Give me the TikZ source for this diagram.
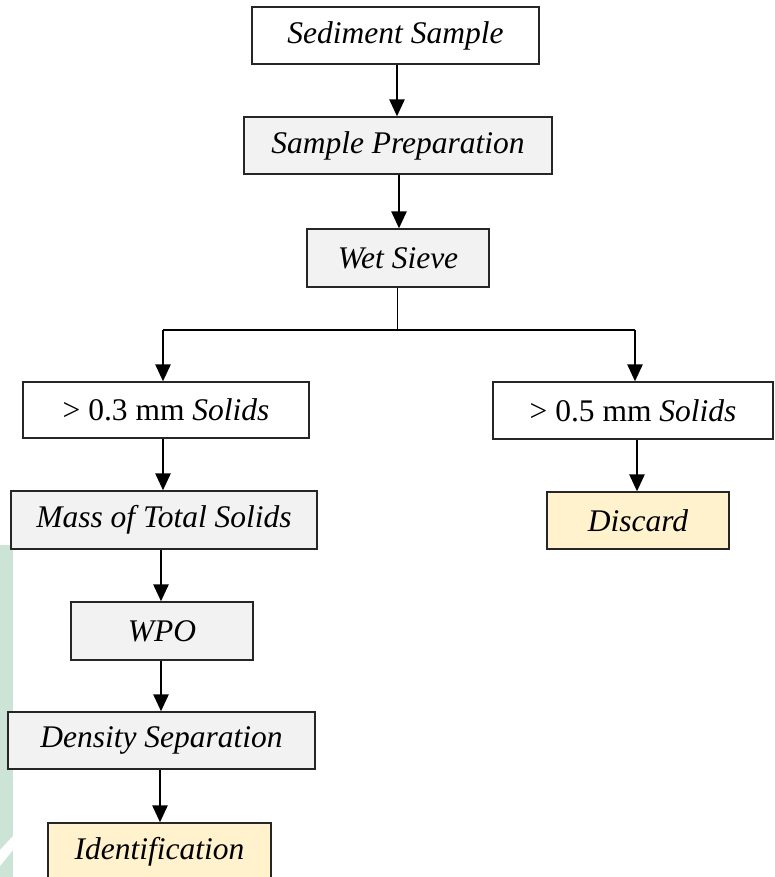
\documentclass[tikz,border=0pt]{standalone}
\usepackage{fontspec}
\setmainfont{Liberation Serif}
\usetikzlibrary{arrows.meta}
\definecolor{boxgray}{RGB}{242,242,242}
\definecolor{boxcream}{RGB}{255,242,204}
\definecolor{edgegreen}{RGB}{204,228,214}
\tikzset{
  stage/.style={draw=black!85, line width=1.3pt, rectangle, inner sep=0pt,
    font=\fontsize{31.5}{36}\selectfont\itshape, text=black},
  arr/.style={line width=2.6pt, -{Triangle[length=17pt,width=15pt]}},
  thinline/.style={line width=1pt}
}
\begin{document}
\begin{tikzpicture}[x=1pt,y=-1pt]
\useasboundingbox (0,0) rectangle (774,877);
\fill[white] (0,0) rectangle (774,877);
% faint band along the left edge
\fill[edgegreen] (0,545) rectangle (13,877);
\fill[white] (0,850) -- (13,836) -- (13,850) -- (0,866) -- cycle;
\begin{scope}
\clip (0,0) rectangle (774,877);
% stages
\node[stage, fill=white, minimum width=287pt, minimum height=57pt] (sed) at (395.5,35.5) {Sediment Sample};
\node[stage, fill=boxgray, minimum width=308pt, minimum height=57pt] (prep) at (398,145.5) {Sample Preparation};
\node[stage, fill=boxgray, minimum width=182pt, minimum height=58pt] (wet) at (398,258) {Wet Sieve};
\node[stage, fill=white, minimum width=286pt, minimum height=56pt] (fine) at (166,410) {\upshape > 0.3 mm \itshape Solids};
\node[stage, fill=white, minimum width=280pt, minimum height=57pt] (coarse) at (633,410.5) {\upshape > 0.5 mm \itshape Solids};
\node[stage, fill=boxgray, minimum width=306pt, minimum height=58pt] (mass) at (164,520) {Mass of Total Solids};
\node[stage, fill=boxcream, minimum width=182pt, minimum height=57pt] (discard) at (638,520.5) {Discard};
\node[stage, fill=boxgray, minimum width=182pt, minimum height=58pt] (wpo) at (162,631) {WPO};
\node[stage, fill=boxgray, minimum width=307pt, minimum height=57pt] (dens) at (161.5,740.5) {Density Separation};
\node[stage, fill=boxcream, minimum width=223pt, minimum height=57pt] (ident) at (159.5,851.5) {Identification};
% connectors
\draw[arr] (sed.south -| 397,0) -- (prep.north -| 397,0);
\draw[arr] (prep.south -| 399,0) -- (wet.north -| 399,0);
\coordinate (split) at (397,330);
\draw[thinline] (wet.south -| split) -- (split);
\draw[line width=1.8pt] (163,330) -- (635,330);
\draw[arr] (163,330) -- (fine.north -| 163,0);
\draw[arr] (635,330) -- (coarse.north -| 635,0);
\draw[arr] (fine.south -| 163,0) -- (mass.north -| 163,0);
\draw[arr] (coarse.south -| 637,0) -- (discard.north -| 637,0);
\draw[arr] (mass.south -| 161,0) -- (wpo.north -| 161,0);
\draw[arr] (wpo.south -| 161,0) -- (dens.north -| 161,0);
\draw[arr] (dens.south -| 160,0) -- (ident.north -| 160,0);
\end{scope}
\end{tikzpicture}
\end{document}
